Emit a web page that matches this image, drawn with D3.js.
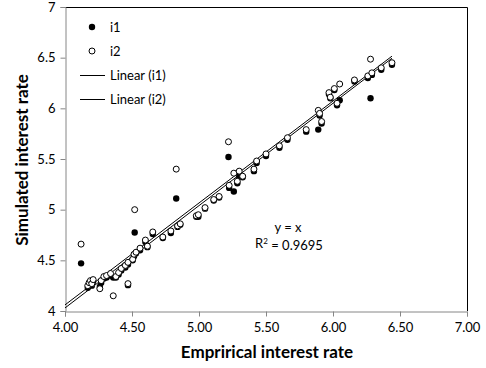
<!DOCTYPE html>
<html lang="en">
<head>
    <meta charset="UTF-8">
    <title>Simulated vs empirical interest rate</title>
    <script src="https://d3js.org/d3.v7.min.js"></script>
    <style>
        body { margin: 0; background: #fff; }
        text { font-family: Lato, "Open Sans", sans-serif; }
    </style>
</head>
<body>
    <div id="chart"></div>

    <script>
        // Empirical rate (x) shared by both series
        const empirical = [4.12, 4.17, 4.18, 4.19, 4.20, 4.21, 4.26, 4.27, 4.29, 4.31,
            4.34, 4.36, 4.38, 4.40, 4.42, 4.45, 4.47, 4.47, 4.505, 4.515,
            4.52, 4.53, 4.56, 4.60, 4.615, 4.655, 4.73, 4.79, 4.83, 4.84,
            4.86, 4.98, 4.995, 5.045, 5.11, 5.15, 5.22, 5.225, 5.26, 5.286,
            5.30, 5.326, 5.41, 5.43, 5.50, 5.60, 5.66, 5.80, 5.89, 5.90,
            5.915, 5.97, 5.98, 6.01, 6.03, 6.05, 6.16, 6.26, 6.28, 6.29,
            6.36, 6.44];
        // Simulated rate, series i1 (filled)
        const i1 = [4.47, 4.23, 4.26, 4.28, 4.25, 4.29, 4.24, 4.28, 4.32, 4.33,
            4.35, 4.33, 4.33, 4.36, 4.40, 4.43, 4.255, 4.46, 4.50, 4.54,
            4.775, 4.57, 4.60, 4.68, 4.63, 4.76, 4.72, 4.77, 5.11, 4.83,
            4.85, 4.93, 4.93, 5.01, 5.09, 5.12, 5.52, 5.215, 5.18, 5.26,
            5.33, 5.32, 5.38, 5.46, 5.53, 5.61, 5.69, 5.77, 5.79, 5.93,
            5.85, 6.14, 6.10, 6.18, 6.03, 6.08, 6.265, 6.30, 6.10, 6.33,
            6.38, 6.43];
        // Simulated rate, series i2 (hollow)
        const i2 = [4.66, 4.25, 4.28, 4.30, 4.27, 4.31, 4.22, 4.30, 4.34, 4.35,
            4.37, 4.15, 4.34, 4.38, 4.42, 4.45, 4.27, 4.48, 4.51, 4.56,
            5.00, 4.58, 4.62, 4.70, 4.64, 4.78, 4.73, 4.79, 5.40, 4.84,
            4.86, 4.94, 4.95, 5.02, 5.10, 5.13, 5.67, 5.24, 5.36, 5.28,
            5.38, 5.33, 5.40, 5.48, 5.55, 5.63, 5.71, 5.79, 5.98, 5.95,
            5.87, 6.155, 6.11, 6.195, 6.05, 6.24, 6.28, 6.32, 6.485, 6.35,
            6.40, 6.45];

        // Linear trend lines: [slope, intercept]
        const trendI1 = [1.010, -0.010];
        const trendI2 = [1.006, 0.036];
        const trendRange = [4.0, 6.44];

        const xTicks = [4.0, 4.5, 5.0, 5.5, 6.0, 6.5, 7.0];
        const yTicks = [4, 4.5, 5, 5.5, 6, 6.5, 7];

        const width = 486;
        const height = 368;
        const margin = { top: 7, right: 19, bottom: 57, left: 65 };

        const svg = d3.select("#chart")
            .append("svg")
            .attr("width", width)
            .attr("height", height);

        const x = d3.scaleLinear()
            .domain([4, 7])
            .range([margin.left, width - margin.right]);

        const y = d3.scaleLinear()
            .domain([4, 7])
            .range([height - margin.bottom, margin.top]);

        // Plot area border (top and right)
        svg.append("path")
            .attr("d", `M${x(4)},${y(7) + 0.5}H${x(7) + 0.5}V${y(4)}`)
            .attr("fill", "none")
            .attr("stroke", "#000")
            .attr("stroke-width", 1);

        // Axes
        const xAxis = svg.append("g")
            .attr("transform", `translate(0,${y(4) + 0.5})`)
            .call(d3.axisBottom(x).tickValues(xTicks).tickFormat(d3.format(".2f")).tickSize(5).tickPadding(6));

        const yAxis = svg.append("g")
            .attr("transform", `translate(${x(4) + 0.5},0)`)
            .call(d3.axisLeft(y).tickValues(yTicks).tickFormat(d => d).tickSize(5).tickPadding(5));

        [xAxis, yAxis].forEach(g => {
            g.select(".domain").attr("stroke", "#868686");
            g.selectAll(".tick line").attr("stroke", "#868686");
            g.selectAll(".tick text")
                .attr("fill", "#000")
                .style("font-size", "13px")
                .style("font-family", "Lato, sans-serif");
        });

        // Trend lines
        const trendLine = t => d3.line()
            .x(d => x(d))
            .y(d => y(t[0] * d + t[1]))(trendRange);

        [trendI1, trendI2].forEach(t => {
            svg.append("path")
                .attr("d", trendLine(t))
                .attr("fill", "none")
                .attr("stroke", "#000")
                .attr("stroke-width", 1);
        });

        // Points: i1 filled, i2 hollow on top
        svg.append("g")
            .selectAll("circle")
            .data(empirical.map((e, i) => [e, i1[i]]))
            .enter()
            .append("circle")
            .attr("cx", d => x(d[0]))
            .attr("cy", d => y(d[1]))
            .attr("r", 3.2)
            .attr("fill", "#000");

        svg.append("g")
            .selectAll("circle")
            .data(empirical.map((e, i) => [e, i2[i]]))
            .enter()
            .append("circle")
            .attr("cx", d => x(d[0]))
            .attr("cy", d => y(d[1]))
            .attr("r", 3)
            .attr("fill", "#fff")
            .attr("stroke", "#000")
            .attr("stroke-width", 1);

        // Legend
        const legend = svg.append("g").attr("transform", "translate(80,27)");
        const legendItems = ["i1", "i2", "Linear (i1)", "Linear (i2)"];
        legendItems.forEach((name, i) => {
            const ly = i * 24;
            if (i === 0) {
                legend.append("circle").attr("cx", 12).attr("cy", ly).attr("r", 3.2).attr("fill", "#000");
            } else if (i === 1) {
                legend.append("circle").attr("cx", 12).attr("cy", ly).attr("r", 3)
                    .attr("fill", "#fff").attr("stroke", "#000");
            } else {
                legend.append("line").attr("x1", 0).attr("x2", 25).attr("y1", ly + 0.5).attr("y2", ly + 0.5)
                    .attr("stroke", "#000").attr("stroke-width", 1);
            }
            legend.append("text")
                .attr("x", 30)
                .attr("y", ly)
                .attr("dy", "0.35em")
                .style("font-size", "13px")
                .text(name);
        });

        // Equation label
        svg.append("text")
            .attr("x", 288)
            .attr("y", 227)
            .attr("text-anchor", "middle")
            .attr("dy", "0.35em")
            .style("font-size", "13px")
            .text("y = x");

        const r2 = svg.append("text")
            .attr("x", 289)
            .attr("y", 243)
            .attr("text-anchor", "middle")
            .attr("dy", "0.35em")
            .style("font-size", "13px");
        r2.append("tspan").text("R");
        r2.append("tspan").attr("dy", "-0.45em").style("font-size", "8px").text("2");
        r2.append("tspan").attr("dy", "0.45em").text(" = 0.9695");

        // Axis titles
        svg.append("text")
            .attr("x", 267)
            .attr("y", 358)
            .attr("text-anchor", "middle")
            .style("font-size", "17px")
            .style("font-weight", "bold")
            .text("Emprirical interest rate");

        svg.append("text")
            .attr("transform", "translate(28,160) rotate(-90)")
            .attr("text-anchor", "middle")
            .style("font-size", "17px")
            .style("font-weight", "bold")
            .text("Simulated interest rate");
    </script>
</body>
</html>
